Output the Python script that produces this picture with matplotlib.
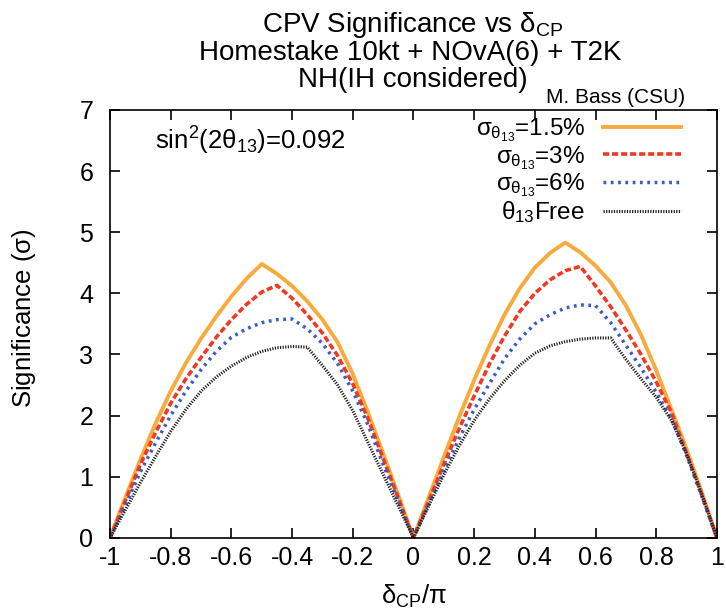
import matplotlib
matplotlib.use('Agg')
import matplotlib.pyplot as plt

plt.rcParams['font.family'] = ['Liberation Sans', 'DejaVu Sans']
plt.rcParams['mathtext.fontset'] = 'custom'
plt.rcParams['mathtext.rm'] = 'Liberation Sans'
plt.rcParams['mathtext.it'] = 'Liberation Sans'
plt.rcParams['mathtext.bf'] = 'Liberation Sans:bold'

# delta_CP / pi
x_vals = [-1.0, -0.95, -0.9, -0.85, -0.8, -0.75, -0.7, -0.65, -0.6, -0.55, -0.5,
          -0.45, -0.4, -0.35, -0.3, -0.25, -0.2, -0.15, -0.1, -0.05, 0.0,
          0.05, 0.1, 0.15, 0.2, 0.25, 0.3, 0.35, 0.4, 0.45, 0.5,
          0.55, 0.6, 0.65, 0.7, 0.75, 0.8, 0.85, 0.9, 0.95, 1.0]

# significance (sigma) for each theta13 constraint
sig_15 = [0.0, 0.65, 1.28, 1.87, 2.4, 2.86, 3.26, 3.62, 3.95, 4.24, 4.48,
          4.32, 4.12, 3.87, 3.57, 3.2, 2.68, 2.05, 1.38, 0.7, 0.0,
          0.66, 1.32, 1.97, 2.58, 3.14, 3.65, 4.08, 4.42, 4.66, 4.83,
          4.67, 4.45, 4.18, 3.8, 3.32, 2.74, 2.1, 1.45, 0.75, 0.0]

sig_3 = [0.0, 0.6, 1.2, 1.72, 2.2, 2.6, 2.95, 3.28, 3.57, 3.82, 4.02,
         4.13, 3.92, 3.65, 3.35, 2.98, 2.52, 1.95, 1.3, 0.65, 0.0,
         0.6, 1.2, 1.78, 2.32, 2.84, 3.3, 3.7, 4.0, 4.22, 4.37,
         4.44, 4.12, 3.78, 3.4, 3.0, 2.55, 2.05, 1.38, 0.7, 0.0]

sig_6 = [0.0, 0.52, 1.08, 1.55, 2.0, 2.4, 2.75, 3.05, 3.28, 3.42, 3.52,
         3.57, 3.58, 3.42, 3.18, 2.85, 2.4, 1.85, 1.2, 0.6, 0.0,
         0.55, 1.1, 1.62, 2.1, 2.52, 2.93, 3.25, 3.5, 3.65, 3.76,
         3.81, 3.8, 3.52, 3.15, 2.78, 2.38, 1.95, 1.35, 0.68, 0.0]

sig_free = [0.0, 0.45, 0.9, 1.33, 1.74, 2.1, 2.4, 2.63, 2.81, 2.95, 3.05,
            3.11, 3.13, 3.12, 2.82, 2.5, 2.08, 1.56, 1.04, 0.52, 0.0,
            0.52, 1.03, 1.5, 1.92, 2.27, 2.57, 2.82, 3.02, 3.14, 3.21,
            3.25, 3.27, 3.27, 2.92, 2.6, 2.3, 1.92, 1.38, 0.72, 0.0]

labels = [r'$\sigma_{\theta_{13}}$=1.5%', r'$\sigma_{\theta_{13}}$=3%',
          r'$\sigma_{\theta_{13}}$=6%', r'$\theta_{13}$Free']

x_ticks = [-1, -0.8, -0.6, -0.4, -0.2, 0, 0.2, 0.4, 0.6, 0.8, 1]
x_tick_labels = ['-1', '-0.8', '-0.6', '-0.4', '-0.2', '0', '0.2', '0.4', '0.6', '0.8', '1']
y_ticks = [0, 1, 2, 3, 4, 5, 6, 7]

fig = plt.figure(figsize=(7.26, 6.14), dpi=100)
ax = fig.add_axes([0.1515, 0.124, 0.836, 0.697])

ax.plot(x_vals, sig_15, color='#f8ab3c', lw=2.8, ls='-', label=labels[0])
ax.plot(x_vals, sig_3, color='#ee3a22', lw=2.6, dashes=(1.7, 0.8), label=labels[1])
ax.plot(x_vals, sig_6, color='#3a5cc6', lw=2.5, dashes=(0.8, 1.3), label=labels[2])
ax.plot(x_vals, sig_free, color='#1e1e1e', lw=2.2, dashes=(0.4, 0.45), label=labels[3])

ax.set_xlim(-1, 1)
ax.set_ylim(0, 7)
ax.set_xticks(x_ticks)
ax.set_xticklabels(x_tick_labels)
ax.set_yticks(y_ticks)
ax.tick_params(direction='in', length=7, width=1.2, top=True, right=True,
               labelsize=18)
ax.tick_params(axis='x', pad=6)
ax.tick_params(axis='y', pad=12)
for s in ax.spines.values():
    s.set_linewidth(1.2)

ax.set_xlabel(r'$\delta_{CP}/\pi$', fontsize=18.5)
ax.xaxis.set_label_coords(0.5, -0.105)
ax.set_ylabel(r'Significance ($\sigma$)', fontsize=18.5)
ax.yaxis.set_label_coords(-0.118, 0.512)

leg = ax.legend(loc='upper right', bbox_to_anchor=(0.941, 0.985), frameon=False,
                markerfirst=False, fontsize=17.5, handlelength=3.2,
                labelspacing=0.0, handletextpad=0.75, borderpad=0,
                borderaxespad=0)
for col in leg._legend_handle_box.get_children():
    col.align = 'right'

ax.text(0.074, 0.908, r'sin$^2$(2$\theta_{13}$)=0.092', transform=ax.transAxes,
        fontsize=18.5, va='baseline')

fig.text(0.568, 0.948, r'CPV Significance vs $\delta_{CP}$', ha='center', va='baseline', fontsize=20)
fig.text(0.565, 0.902, 'Homestake 10kt + NOvA(6) + T2K', ha='center', va='baseline', fontsize=20)
fig.text(0.568, 0.858, 'NH(IH considered)', ha='center', va='baseline', fontsize=20)
fig.text(0.9435, 0.832, 'M. Bass (CSU)', ha='right', va='baseline', fontsize=15)

fig.savefig('out.png', dpi=100)
